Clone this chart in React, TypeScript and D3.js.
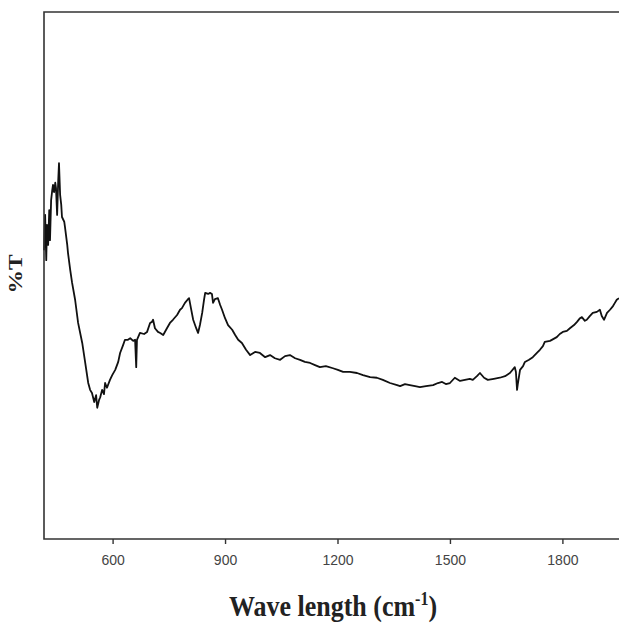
import React, { useRef, useEffect } from 'react';
import * as d3 from 'd3';

// wavenumber (cm-1)
const wavenumbers = [
  417, 420, 423, 425, 428, 431, 433, 436, 439, 441, 444, 447, 449, 452, 455, 457, 460, 463, 465,
  471, 473, 479, 481, 487, 492, 500, 508, 519, 527, 535, 540, 545, 551, 556, 559, 564, 567, 572,
  577, 580, 585, 593, 599, 607, 615, 620, 628, 633, 641, 647, 655, 660, 663, 665,
  673, 684, 692, 700, 705, 708, 713, 721, 727, 735, 745, 753, 761, 772, 780, 785, 793, 801, 804,
  809, 815, 823, 828, 833, 839, 844, 847, 855, 860, 865, 868, 873, 881, 887, 892, 900, 908, 919,
  927, 935, 945, 956, 967, 980, 993, 1007, 1020, 1033, 1047, 1060, 1073, 1087, 1100, 1113, 1127,
  1140, 1153, 1169, 1188, 1201, 1215, 1233, 1252, 1268, 1287, 1305, 1321, 1340, 1359, 1367, 1380,
  1393, 1407, 1420, 1436, 1455, 1468, 1479, 1489, 1500, 1513, 1527, 1540, 1553, 1561, 1572, 1580,
  1591, 1601, 1617, 1633, 1647, 1660, 1673, 1676, 1679, 1681, 1687, 1695, 1700, 1711, 1721, 1732,
  1740, 1748, 1753, 1767, 1785, 1793, 1801, 1812, 1820, 1831, 1839, 1847, 1852, 1860, 1865, 1873,
  1881, 1892, 1900, 1905, 1911, 1919, 1927, 1935, 1940, 1945, 1951,
];

// %T (no scale printed on the axis, 0..100 assumed)
const transmittance = [
  54.8, 61.5, 52.9, 59.6, 55.8, 62.4, 56.7, 64.3, 66.2, 67.2, 65.8, 67.6, 66.6, 61.5, 68.1, 71.3, 65.3, 63.4, 61.1,
  60.2, 59.2, 55.8, 54.3, 51.0, 48.6, 45.4, 41.0, 37.2, 33.4, 29.6, 28.3, 27.7, 26.0, 27.3, 24.9, 26.4, 26.9, 28.3,
  27.5, 29.6, 28.7, 30.2, 31.1, 32.1, 33.6, 35.3, 36.8, 37.8, 37.8, 38.1, 37.6, 37.8, 32.6, 37.8,
  39.1, 38.9, 39.3, 41.0, 41.2, 41.6, 40.0, 39.3, 39.1, 38.7, 40.0, 41.0, 41.6, 42.5, 43.5, 43.8, 44.8, 45.5, 45.7,
  43.8, 41.6, 40.0, 39.1, 40.6, 42.9, 45.4, 46.7, 46.5, 46.7, 46.5, 44.8, 45.5, 45.7, 44.4, 43.5, 41.9, 40.6, 39.7,
  38.7, 37.8, 37.2, 35.9, 34.9, 35.5, 35.3, 34.5, 34.9, 34.3, 34.0, 34.7, 34.9, 34.3, 34.0, 33.6, 33.4,
  33.0, 32.6, 32.8, 32.4, 32.1, 31.7, 31.7, 31.5, 31.1, 30.7, 30.6, 30.2, 29.6, 29.2, 29.0, 29.4,
  29.2, 29.0, 28.8, 29.0, 29.2, 29.6, 29.8, 29.4, 29.6, 30.6, 30.0, 30.2, 30.4, 30.2, 30.9, 31.5,
  30.6, 30.2, 30.4, 30.6, 30.9, 31.5, 32.6, 31.7, 28.3, 29.4, 32.1, 32.8, 33.6, 34.0, 34.5, 35.3,
  35.9, 36.6, 37.4, 37.6, 38.3, 38.9, 39.3, 39.5, 40.0, 40.6, 41.2, 41.9, 42.1, 41.4, 41.6, 42.3,
  42.9, 43.1, 43.5, 42.3, 41.6, 42.9, 43.5, 44.2, 44.8, 45.4, 45.7,
];

const xTicks = [600, 900, 1200, 1500, 1800];
const xDomain = [417, 1951];
const yDomain = [0, 100];

const W = 619;
const H = 625;

export default function App() {
  const svgRef = useRef<SVGSVGElement>(null);

  useEffect(() => {
    const svgEl = svgRef.current;
    if (!svgEl) return;
    d3.select(svgEl).selectAll('*').remove();

    const left = 44, top = 12, bottom = 539, right = W;

    const x = d3.scaleLinear().domain(xDomain).range([left, right]);
    const y = d3.scaleLinear().domain(yDomain).range([bottom, top]);

    const svg = d3.select(svgEl);

    // spectrum
    const pts = wavenumbers.map((w, i) => [w, transmittance[i]] as [number, number]);
    const line = d3.line<[number, number]>()
      .x(d => x(d[0]))
      .y(d => y(d[1]));

    svg.append('path')
      .datum(pts)
      .attr('d', line)
      .attr('fill', 'none')
      .attr('stroke', '#111')
      .attr('stroke-width', 1.8)
      .attr('stroke-linejoin', 'round');

    // frame (right side falls outside the picture)
    const frame = svg.append('g').attr('stroke', '#333').attr('stroke-width', 1.6).attr('fill', 'none');
    frame.append('path').attr('d', `M${right + 2},${top}H${left}V${bottom}H${right + 2}`);

    // bottom axis
    const xAxis = d3.axisBottom(x)
      .tickValues(xTicks)
      .tickFormat(d3.format('d'))
      .tickSize(5)
      .tickSizeOuter(0)
      .tickPadding(11);
    const gx = svg.append('g').attr('transform', `translate(0,${bottom})`).call(xAxis);
    gx.select('.domain').remove();
    gx.selectAll('line').attr('stroke', '#333').attr('stroke-width', 1.4);
    gx.selectAll('text')
      .attr('fill', '#444')
      .style('font-family', 'Arial, "Liberation Sans", sans-serif')
      .style('font-size', '14px');

    // x title
    const xt = svg.append('text')
      .attr('transform', `translate(333,616) scale(1,1.15)`)
      .attr('text-anchor', 'middle')
      .style('font-family', '"Times New Roman", "Liberation Serif", serif')
      .style('font-weight', 'bold')
      .style('font-size', '26px')
      .attr('fill', '#222');
    xt.append('tspan').text('Wave length (cm');
    xt.append('tspan').attr('dy', -10).style('font-size', '16px').text('-1');
    xt.append('tspan').attr('dy', 10).text(')');

    // y title
    svg.append('text')
      .attr('transform', `translate(16,274) scale(1,1.3) rotate(-90)`)
      .attr('text-anchor', 'middle')
      .attr('dy', '0.35em')
      .style('font-family', '"Times New Roman", "Liberation Serif", serif')
      .style('font-weight', 'bold')
      .style('font-size', '18px')
      .attr('fill', '#222')
      .text('%T');
  }, []);

  return (
    <svg
      ref={svgRef}
      width={W}
      height={H}
      style={{ position: 'absolute', left: 0, top: 0, background: '#fff' }}
    />
  );
}
